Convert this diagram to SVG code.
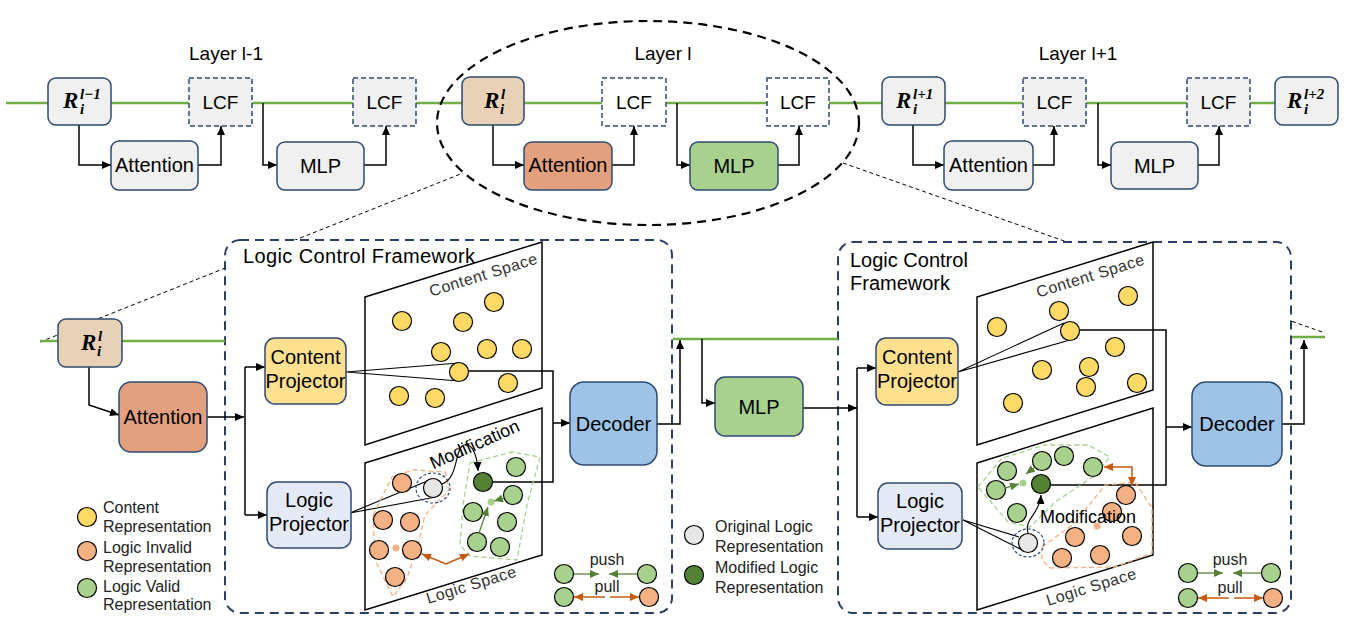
<svg xmlns="http://www.w3.org/2000/svg" width="1359" height="622" viewBox="0 0 1359 622">
<defs>
<marker id="ah" markerWidth="9" markerHeight="8" refX="9" refY="4" orient="auto" markerUnits="userSpaceOnUse"><path d="M0,0 L9,4 L0,8 z" fill="#000"/></marker>
<marker id="ga" markerWidth="9" markerHeight="8" refX="9" refY="4" orient="auto" markerUnits="userSpaceOnUse"><path d="M0,0 L9,4 L0,8 z" fill="#548235"/></marker>
<marker id="oa" markerWidth="9" markerHeight="8" refX="9" refY="4" orient="auto-start-reverse" markerUnits="userSpaceOnUse"><path d="M0,0 L9,4 L0,8 z" fill="#c55a11"/></marker>
<style>
.t{font-family:"Liberation Sans",Arial,sans-serif;fill:#000}
.c{text-anchor:middle}
.lg{font-family:"Liberation Sans",Arial,sans-serif;fill:#222;font-size:16px}
.m{font-family:"Liberation Serif","Times New Roman",serif;font-weight:bold;font-style:italic;fill:#000}
.bx{stroke:#2f4a72;stroke-width:1.5}
.dbx{stroke:#2f4a72;stroke-width:1.5;stroke-dasharray:5,3}
.gr{fill:#f0f0f0}
.tan{fill:#e8d1b7}
.org{fill:#e2a07f}
.grn{fill:#a9d18e}
.yel{fill:#ffe08f}
.lb{fill:#e3eaf6}
.dec{fill:#9dc3e6}
.ln{fill:none;stroke:#000;stroke-width:1.5}
.thin{fill:none;stroke:#000;stroke-width:1.1}
.gl{fill:none;stroke:#70ad47;stroke-width:2.5}
.cy{fill:#ffd966;stroke:#000;stroke-width:1.2}
.co{fill:#f4b183;stroke:#000;stroke-width:1.2}
.cg{fill:#a9d18e;stroke:#000;stroke-width:1.2}
.cdg{fill:#548235;stroke:#000;stroke-width:1.2}
.cgr{fill:#e7e6e6;stroke:#000;stroke-width:1.2}
.sp{fill:none;stroke:#000;stroke-width:1.5}
.fw{fill:#fff;stroke:#2c3e63;stroke-width:2;stroke-dasharray:9,6}
.oh{fill:none;stroke:#f4b183;stroke-width:1.3;stroke-dasharray:5,3}
.gh{fill:none;stroke:#a9d18e;stroke-width:1.3;stroke-dasharray:5,3}
.ga{fill:none;stroke:#548235;stroke-width:1.3}
.oa{fill:none;stroke:#c55a11;stroke-width:1.5}
.spt{font-family:"Liberation Sans",Arial,sans-serif;fill:#333;font-size:16px;letter-spacing:0.5px;text-anchor:middle}
</style>
</defs>
<rect width="1359" height="622" fill="#fff"/>

<!-- guide lines -->
<g id="guides">
<line x1="40" y1="342" x2="463" y2="173" stroke="#000" stroke-width="1" stroke-dasharray="4,3"/>
<line x1="843" y1="163" x2="1325" y2="333" stroke="#000" stroke-width="1" stroke-dasharray="4,3"/>
</g>

<!-- top connectors -->
<g id="connectors-top">
<path class="gl" d="M6,103 H1275"/>
<path class="ln" d="M79,125 V165 H111" marker-end="url(#ah)"/>
<path class="ln" d="M198,165 H221 V126" marker-end="url(#ah)"/>
<path class="ln" d="M263,103 V165 H277" marker-end="url(#ah)"/>
<path class="ln" d="M364,165 H386 V126" marker-end="url(#ah)"/>
<path class="ln" d="M493,125 V165 H524" marker-end="url(#ah)"/>
<path class="ln" d="M612,165 H634 V126" marker-end="url(#ah)"/>
<path class="ln" d="M677,103 V165 H690" marker-end="url(#ah)"/>
<path class="ln" d="M778,165 H799 V126" marker-end="url(#ah)"/>
<path class="ln" d="M913,125 V165 H944" marker-end="url(#ah)"/>
<path class="ln" d="M1033,165 H1054 V126" marker-end="url(#ah)"/>
<path class="ln" d="M1098,103 V165 H1111" marker-end="url(#ah)"/>
<path class="ln" d="M1198,165 H1219 V126" marker-end="url(#ah)"/>
</g>

<!-- top row nodes -->
<g id="layer-labels">
<text class="t c" x="226" y="60" font-size="19">Layer l-1</text>
<text class="t c" x="663" y="60" font-size="19">Layer l</text>
<text class="t c" x="1078" y="60" font-size="19">Layer l+1</text>
</g>
<g id="r-lm1"><rect class="bx gr" x="48" y="78" width="63" height="47" rx="8"/>
<text class="m" x="63" y="108" font-size="23">R</text><text class="m" x="80" y="99" font-size="15">l−1</text><text class="m" x="80" y="114" font-size="15">i</text></g>
<g id="lcf1"><rect class="dbx gr" x="189" y="78" width="63" height="48"/><text class="t c" x="220.5" y="109" font-size="19">LCF</text></g>
<g id="att1"><rect class="bx gr" x="111" y="141" width="87" height="49" rx="8"/><text class="t c" x="154.5" y="172" font-size="20">Attention</text></g>
<g id="mlp1"><rect class="bx gr" x="277" y="142" width="87" height="48" rx="8"/><text class="t c" x="320.5" y="173" font-size="20">MLP</text></g>
<g id="lcf2"><rect class="dbx gr" x="353" y="78" width="63" height="48"/><text class="t c" x="384.5" y="109" font-size="19">LCF</text></g>

<g id="r-l"><rect class="bx tan" x="462" y="77" width="62" height="48" rx="8"/>
<text class="m" x="484" y="108" font-size="23">R</text><text class="m" x="501" y="99" font-size="15">l</text><text class="m" x="500" y="114" font-size="15">i</text></g>
<g id="att-l"><rect class="bx org" x="524" y="142" width="88" height="48" rx="8"/><text class="t c" x="568" y="172" font-size="20">Attention</text></g>
<g id="lcf3"><rect class="dbx" fill="#fff" x="602" y="78" width="64" height="48"/><text class="t c" x="634" y="109" font-size="19">LCF</text></g>
<g id="mlp-l"><rect class="bx grn" x="690" y="142" width="88" height="48" rx="8"/><text class="t c" x="734" y="173" font-size="20">MLP</text></g>
<g id="lcf4"><rect class="dbx" fill="#fff" x="767" y="78" width="62" height="48"/><text class="t c" x="798" y="109" font-size="19">LCF</text></g>

<g id="r-lp1"><rect class="bx gr" x="882" y="77" width="63" height="48" rx="8"/>
<text class="m" x="896" y="108" font-size="23">R</text><text class="m" x="913" y="99" font-size="15">l+1</text><text class="m" x="913" y="114" font-size="15">i</text></g>
<g id="att3"><rect class="bx gr" x="944" y="141" width="89" height="49" rx="8"/><text class="t c" x="988.5" y="172" font-size="20">Attention</text></g>
<g id="lcf5"><rect class="dbx gr" x="1023" y="78" width="63" height="48"/><text class="t c" x="1054.5" y="109" font-size="19">LCF</text></g>
<g id="mlp3"><rect class="bx gr" x="1111" y="142" width="87" height="47" rx="8"/><text class="t c" x="1154.5" y="173" font-size="20">MLP</text></g>
<g id="lcf6"><rect class="dbx gr" x="1187" y="78" width="63" height="48"/><text class="t c" x="1218.5" y="109" font-size="19">LCF</text></g>
<g id="r-lp2"><rect class="bx gr" x="1275" y="77" width="63" height="48" rx="8"/>
<text class="m" x="1287" y="108" font-size="23">R</text><text class="m" x="1304" y="99" font-size="15">l+2</text><text class="m" x="1304" y="114" font-size="15">i</text></g>

<g id="layer-ellipse"><ellipse cx="648" cy="123" rx="211" ry="102" fill="none" stroke="#000" stroke-width="2.2" stroke-dasharray="9,6"/></g>

<!-- bottom framework boxes -->
<g id="framework1"><rect class="fw" x="225" y="240" width="447" height="373" rx="15"/>
<text class="t" x="243" y="263" font-size="20" textLength="232" lengthAdjust="spacing">Logic Control Framework</text></g>
<g id="framework2"><rect class="fw" x="838" y="242" width="453" height="371" rx="15"/>
<text class="t" x="850" y="267" font-size="20">Logic Control</text><text class="t" x="850" y="290" font-size="20">Framework</text></g>

<!-- spaces (outlines) -->
<g id="content-space1-frame">
<polygon class="sp" points="365,297 542,242 542,388 365,445"/>
<text class="spt" transform="translate(485,280) rotate(-17.3)">Content Space</text>
</g>
<g id="logic-space1-frame">
<polygon class="sp" points="365,463 542,408 542,555 365,610"/>
<text class="spt" transform="translate(473,590) rotate(-17.3)">Logic Space</text>
</g>
<g id="content-space2-frame">
<polygon class="sp" points="977,297 1153,242 1153,390 977,445"/>
<text class="spt" transform="translate(1092,281) rotate(-17.3)">Content Space</text>
</g>
<g id="logic-space2-frame">
<polygon class="sp" points="977,463 1153,408 1153,555 977,610"/>
<text class="spt" transform="translate(1093,592) rotate(-17.3)">Logic Space</text>
</g>

<!-- bottom connectors -->
<g id="connectors-bottom">
<path class="gl" d="M40,341 H225"/>
<path class="gl" d="M673,339 H838"/>
<path class="gl" d="M1292,337 H1325"/>
<path class="ln" d="M89,367 V405 L119,415" marker-end="url(#ah)"/>
<path class="ln" d="M207,417 H244" marker-end="url(#ah)"/>
<path class="ln" d="M245,367 V515"/>
<path class="ln" d="M245,367 H265" marker-end="url(#ah)"/>
<path class="ln" d="M245,515 H267" marker-end="url(#ah)"/>
<path class="thin" d="M346,372 L459,363 M346,372 L459,381"/>
<path class="thin" d="M350,513 L432,479 M350,513 L436,497"/>
<path class="ln" d="M468,371 H553 V482 H492"/>
<path class="ln" d="M553,423 H570" marker-end="url(#ah)"/>
<path class="ln" d="M657,424 H680 V340" marker-end="url(#ah)"/>
<path class="ln" d="M702,339 V403 H715" marker-end="url(#ah)"/>
<path class="ln" d="M803,408 H857" marker-end="url(#ah)"/>
<path class="ln" d="M857,368 V517"/>
<path class="ln" d="M857,368 H876" marker-end="url(#ah)"/>
<path class="ln" d="M857,517 H878" marker-end="url(#ah)"/>
<path class="thin" d="M958,372 L1064,323 M958,372 L1070,340"/>
<path class="thin" d="M963,520 L1019,537 M963,520 L1024,551"/>
<path class="ln" d="M1079,330 H1166 V485 H1050"/>
<path class="ln" d="M1166,427 H1192" marker-end="url(#ah)"/>
<path class="ln" d="M1282,424 H1304 V340" marker-end="url(#ah)"/>
</g>

<g id="r-l-bottom"><rect class="bx tan" x="58" y="319" width="64" height="48" rx="8"/>
<text class="m" x="81" y="350" font-size="23">R</text><text class="m" x="98" y="341" font-size="15">l</text><text class="m" x="97" y="356" font-size="15">i</text></g>
<g id="att-bottom"><rect class="bx org" x="119" y="382" width="88" height="70" rx="12"/><text class="t c" x="163" y="424" font-size="20">Attention</text></g>
<g id="content-proj1"><rect class="bx yel" x="265" y="338" width="81" height="66" rx="10"/><text class="t c" x="305.5" y="364" font-size="20">Content</text><text class="t c" x="305.5" y="388" font-size="20">Projector</text></g>
<g id="logic-proj1"><rect class="bx lb" x="267" y="482" width="84" height="66" rx="10"/><text class="t c" x="309" y="507" font-size="20">Logic</text><text class="t c" x="309" y="531" font-size="20">Projector</text></g>
<g id="decoder1"><rect class="bx dec" x="570" y="382" width="87" height="83" rx="14"/><text class="t c" x="613.5" y="431" font-size="20">Decoder</text></g>
<g id="mlp-bottom"><rect class="bx grn" x="715" y="377" width="88" height="59" rx="10"/><text class="t c" x="759" y="414" font-size="20">MLP</text></g>
<g id="content-proj2"><rect class="bx yel" x="876" y="338" width="82" height="67" rx="10"/><text class="t c" x="917" y="364" font-size="20">Content</text><text class="t c" x="917" y="388" font-size="20">Projector</text></g>
<g id="logic-proj2"><rect class="bx lb" x="878" y="483" width="84" height="66" rx="10"/><text class="t c" x="920" y="508" font-size="20">Logic</text><text class="t c" x="920" y="532" font-size="20">Projector</text></g>
<g id="decoder2"><rect class="bx dec" x="1192" y="382" width="90" height="84" rx="14"/><text class="t c" x="1237" y="431" font-size="20">Decoder</text></g>

<!-- content space 1 points -->
<g id="content-space1">
<circle class="cy" cx="402" cy="321" r="9.5"/><circle class="cy" cx="463" cy="322" r="9.5"/><circle class="cy" cx="494" cy="302" r="9.5"/>
<circle class="cy" cx="441" cy="352" r="9.5"/><circle class="cy" cx="487" cy="349" r="9.5"/><circle class="cy" cx="522" cy="349" r="9.5"/>
<circle class="cy" cx="459" cy="372" r="9.5"/><circle class="cy" cx="508" cy="383" r="9.5"/><circle class="cy" cx="399" cy="396" r="9.5"/><circle class="cy" cx="435" cy="398" r="9.5"/>
</g>
<!-- logic space 1 points -->
<g id="logic-space1">
<polygon class="oh" points="373,515 392,477 413,470 445,472 449,490 425,515 418,545 407,578 393,597 375,560"/>
<polygon class="gh" points="470,463 512,452 540,457 527,505 517,560 470,556 460,545 463,505"/>
<circle class="co" cx="402" cy="483" r="9.5"/><circle class="co" cx="383" cy="520" r="9.5"/><circle class="co" cx="410" cy="522" r="9.5"/>
<circle class="co" cx="379" cy="550" r="9.5"/><circle class="co" cx="412" cy="550" r="9.5"/><circle class="co" cx="395" cy="577" r="9.5"/>
<circle cx="396" cy="548" r="3.5" fill="#f4b183"/>
<ellipse cx="433" cy="488" rx="17" ry="15" fill="none" stroke="#2f4a72" stroke-width="1.2" stroke-dasharray="3,2"/>
<circle class="cgr" cx="433" cy="488" r="9.5"/>
<circle class="cg" cx="516" cy="467" r="9.5"/><circle class="cg" cx="513" cy="495" r="9.5"/><circle class="cg" cx="473" cy="512" r="9.5"/>
<circle class="cg" cx="507" cy="522" r="9.5"/><circle class="cg" cx="477" cy="542" r="9.5"/><circle class="cg" cx="500" cy="547" r="9.5"/>
<circle cx="491" cy="502" r="3.5" fill="#a9d18e"/>
<path class="ga" d="M479,533 L488,507" marker-end="url(#ga)"/>
<path class="ga" d="M504,498 L494,501" marker-end="url(#ga)"/>
<path class="oa" d="M422,554 L446,564 L469,554" marker-start="url(#oa)" marker-end="url(#oa)"/>
<circle class="cdg" cx="483" cy="482" r="9.5"/>
<path class="thin" d="M442,484 C458,478 455,452 462,446 C470,440 477,452 478,471" marker-end="url(#ah)"/>
<text class="t c" transform="translate(477,450) rotate(-24)" font-size="18">Modification</text>
</g>

<!-- content space 2 points -->
<g id="content-space2">
<circle class="cy" cx="997" cy="327" r="9.5"/><circle class="cy" cx="1059" cy="311" r="9.5"/><circle class="cy" cx="1128" cy="296" r="9.5"/>
<circle class="cy" cx="1070" cy="331" r="9.5"/><circle class="cy" cx="1115" cy="347" r="9.5"/><circle class="cy" cx="1042" cy="370" r="9.5"/>
<circle class="cy" cx="1089" cy="367" r="9.5"/><circle class="cy" cx="1086" cy="387" r="9.5"/><circle class="cy" cx="1137" cy="383" r="9.5"/><circle class="cy" cx="1013" cy="403" r="9.5"/>
</g>
<!-- logic space 2 points -->
<g id="logic-space2">
<polygon class="gh" points="978,487 1002,458 1045,445 1088,445 1110,457 1093,477 1055,502 1030,527 1008,522"/>
<polygon class="oh" points="1042,547 1075,523 1105,485 1135,482 1152,508 1152,553 1115,567 1050,568 1042,560"/>
<circle class="co" cx="1126" cy="495" r="9.5"/><circle class="co" cx="1112" cy="512" r="9.5"/><circle class="co" cx="1075" cy="537" r="9.5"/>
<circle class="co" cx="1132" cy="536" r="9.5"/><circle class="co" cx="1062" cy="558" r="9.5"/><circle class="co" cx="1100" cy="555" r="9.5"/>
<circle cx="1097" cy="526" r="3.5" fill="#f4b183"/>
<circle class="cg" cx="1007" cy="471" r="9.5"/><circle class="cg" cx="1042" cy="461" r="9.5"/><circle class="cg" cx="1064" cy="456" r="9.5"/>
<circle class="cg" cx="1093" cy="467" r="9.5"/><circle class="cg" cx="996" cy="490" r="9.5"/><circle class="cg" cx="1017" cy="513" r="9.5"/>
<circle cx="1023" cy="483" r="3.5" fill="#a9d18e"/>
<path class="ga" d="M1005,488 L1019,484" marker-end="url(#ga)"/>
<path class="ga" d="M1035,467 L1026,474" marker-end="url(#ga)"/>
<path class="oa" d="M1104,467 H1132 V486" marker-start="url(#oa)" marker-end="url(#oa)"/>
<ellipse cx="1028" cy="543" rx="16" ry="14" fill="none" stroke="#2f4a72" stroke-width="1.2" stroke-dasharray="3,2"/>
<circle class="cgr" cx="1028" cy="543" r="9.5"/>
<circle class="cdg" cx="1041" cy="484" r="9.5"/>
<path class="thin" d="M1028,533 C1024,518 1040,514 1041,495" marker-end="url(#ah)"/>
<text class="t" x="1040" y="523" font-size="18">Modification</text>
</g>

<!-- legends -->
<g id="legend-left">
<circle class="cy" cx="87" cy="517" r="9.5"/><circle class="co" cx="87" cy="551" r="9.5"/><circle class="cg" cx="87" cy="588" r="9.5"/>
<text class="lg" x="103" y="513">Content</text><text class="lg" x="103" y="532">Representation</text>
<text class="lg" x="103" y="553">Logic Invalid</text><text class="lg" x="103" y="572">Representation</text>
<text class="lg" x="103" y="592">Logic Valid</text><text class="lg" x="103" y="610">Representation</text>
</g>
<g id="legend-middle">
<circle class="cgr" cx="694" cy="535" r="9.5"/><circle class="cdg" cx="694" cy="575" r="9.5"/>
<text class="lg" x="715" y="532">Original Logic</text><text class="lg" x="715" y="552">Representation</text>
<text class="lg" x="715" y="573">Modified Logic</text><text class="lg" x="715" y="593">Representation</text>
</g>
<g id="legend-pushpull1">
<circle class="cg" cx="564" cy="574" r="9.5"/><circle class="cg" cx="647" cy="574" r="9.5"/>
<circle class="cg" cx="564" cy="597" r="9.5"/><circle class="co" cx="649" cy="597" r="9.5"/>
<path class="ga" d="M574,574 H599" marker-end="url(#ga)"/><path class="ga" d="M637,574 H609" marker-end="url(#ga)"/>
<path class="oa" d="M605,597 H574" marker-end="url(#oa)"/><path class="oa" d="M610,597 H639" marker-end="url(#oa)"/>
<text class="lg c" x="607" y="565">push</text><text class="lg c" x="607" y="592">pull</text>
</g>
<g id="legend-pushpull2">
<circle class="cg" cx="1188" cy="573" r="9.5"/><circle class="cg" cx="1271" cy="573" r="9.5"/>
<circle class="cg" cx="1188" cy="598" r="9.5"/><circle class="co" cx="1273" cy="598" r="9.5"/>
<path class="ga" d="M1198,573 H1223" marker-end="url(#ga)"/><path class="ga" d="M1261,573 H1233" marker-end="url(#ga)"/>
<path class="oa" d="M1229,598 H1198" marker-end="url(#oa)"/><path class="oa" d="M1234,598 H1263" marker-end="url(#oa)"/>
<text class="lg c" x="1230" y="565">push</text><text class="lg c" x="1230" y="593">pull</text>
</g>
</svg>
